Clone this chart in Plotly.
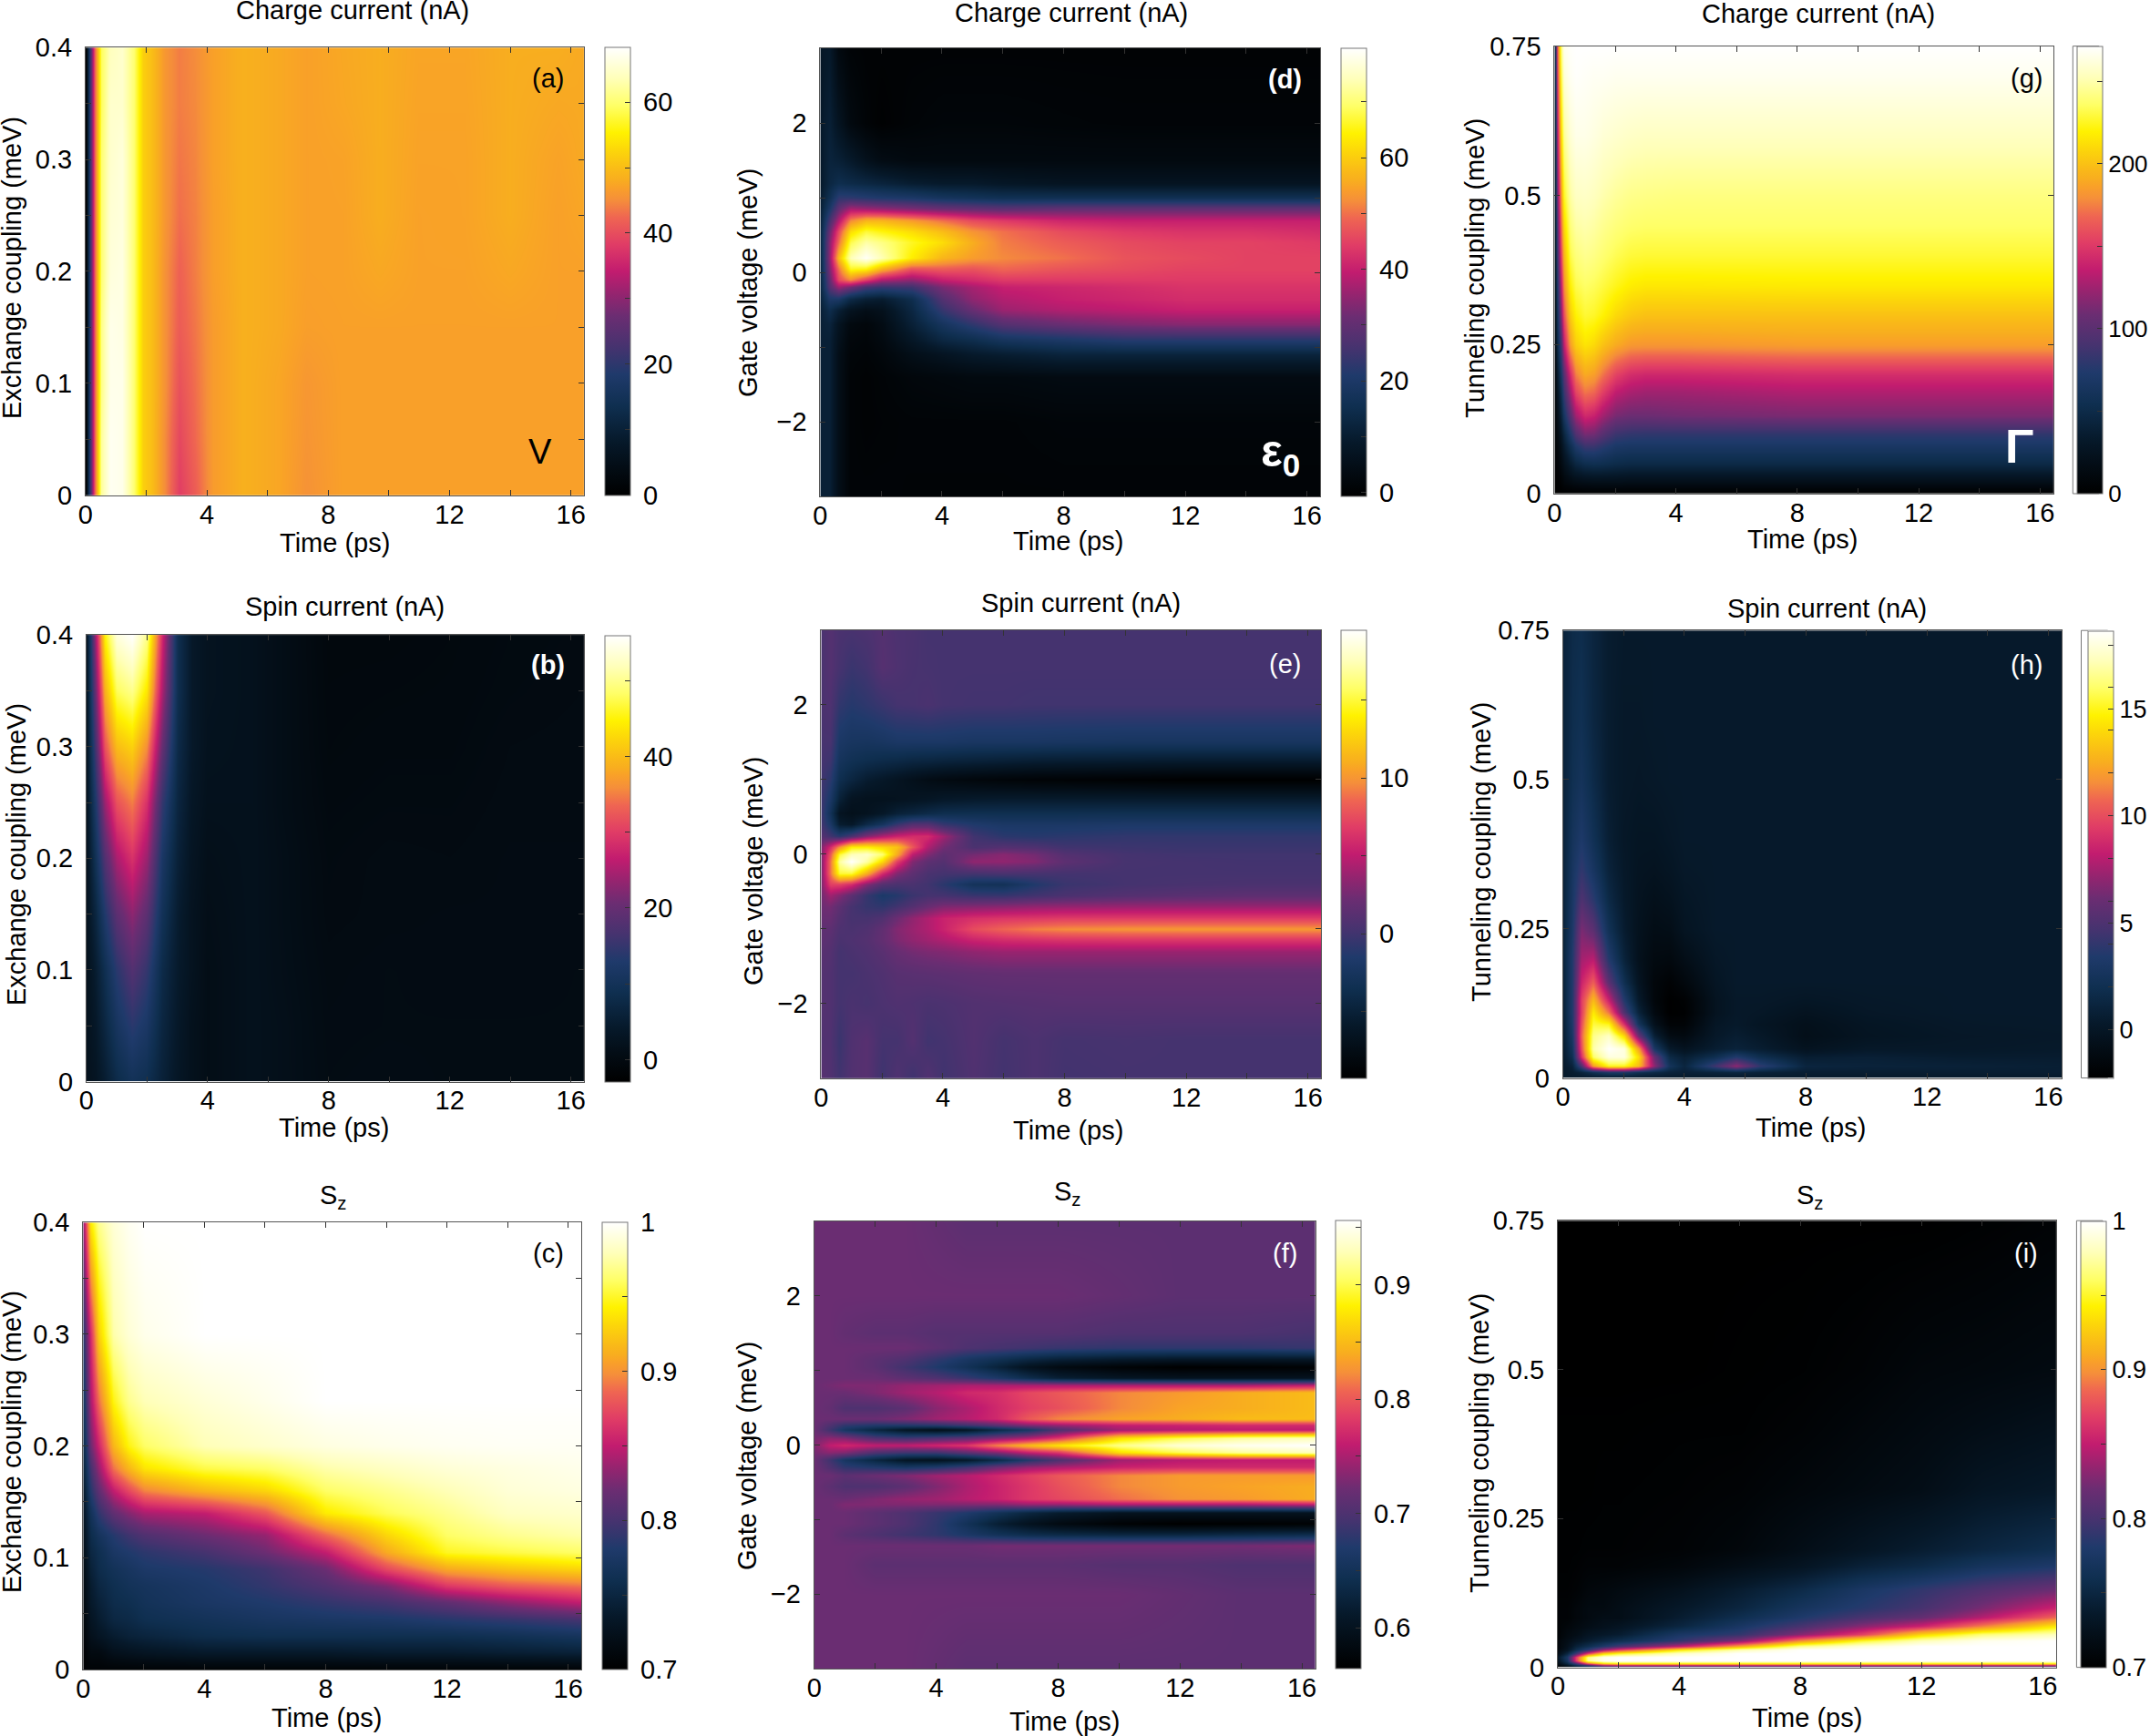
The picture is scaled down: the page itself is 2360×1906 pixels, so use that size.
import plotly.graph_objects as go

W = 2360
H = 1906
sans = "Liberation Sans"

colors = [[0, "#000000"], [0.06, "#030c14"], [0.12, "#06192a"], [0.2, "#0f2f50"], [0.27, "#1f3a6b"],
          [0.33, "#45336f"], [0.4, "#6b2d72"], [0.45, "#95246f"], [0.5, "#c21c6f"], [0.56, "#e03c66"],
          [0.62, "#ef6552"], [0.66, "#f58f3a"], [0.688, "#f9a128"], [0.705, "#f8ae1f"], [0.72, "#f9b61a"],
          [0.77, "#fcd60a"], [0.81, "#fff200"], [0.87, "#ffff66"], [0.93, "#ffffb8"], [1, "#ffffff"]]

# (a) charge current vs exchange coupling
a_t = [0, 0.15, 0.3, 0.5, 0.8, 1.2, 1.6, 1.9, 2.2, 2.6, 3.1, 3.6, 4.2, 5.2, 6.4, 7.3, 8.5, 9.7, 11, 12.5, 14, 15.6, 16.44]
a_j = [0, 0.05, 0.1, 0.15, 0.2, 0.25, 0.3, 0.35, 0.4]
a_z = [
    [0, 22, 42, 62, 67.5, 67, 60, 52, 50, 45, 38.5, 41.5, 46.5, 48.5, 47.5, 45.5, 47, 47, 47, 47, 47, 47, 47],
    [0, 22, 42, 62, 67.5, 67, 60, 52, 50, 45, 39.5, 42.5, 46.5, 48.5, 47.5, 45.8, 47, 47, 47, 47, 47, 47, 47],
    [0, 22, 42, 61, 67, 67, 60, 52, 50, 45.5, 40.5, 43, 46.5, 48.5, 47.5, 46, 47, 47, 47, 47, 47, 47, 47],
    [0, 22, 42, 61, 67, 66.5, 60, 52, 50, 45.5, 41.5, 43.5, 46.5, 48.5, 47.8, 46.8, 47, 47, 47, 47, 47, 47, 47],
    [0, 22, 42, 60, 66, 66.5, 60, 52, 50, 45.5, 42, 44, 46.8, 48.5, 47.8, 47, 47.1, 47.7, 47.1, 47.1, 47.7, 47, 47],
    [0, 22, 42, 60, 65.5, 66, 60, 52, 50, 46, 43, 44.2, 46.8, 48.5, 47.8, 47, 47.1, 48.2, 47.1, 47.2, 48.2, 47, 47.5],
    [0, 22, 42, 60, 65, 66, 60, 52, 50, 46, 43.5, 44.5, 47, 48.5, 47.8, 47, 47.2, 48.2, 47.2, 47.2, 48.2, 47.2, 47.8],
    [0, 22, 42, 59, 65, 65, 60, 52, 50, 46, 44, 44.8, 47, 48.5, 47.8, 47, 47.6, 48.2, 47.3, 47.3, 48.2, 47.7, 47.8],
    [0, 22, 42, 59, 64, 65, 60, 52, 50, 46, 44, 45, 47, 48.5, 47.8, 47, 47.7, 48.2, 47.4, 47.4, 48.2, 48.2, 47.8],
]

# (b) spin current vs exchange coupling
b_t = [0, 0.3, 0.6, 1, 1.5, 2, 2.5, 3, 3.5, 4, 5.5, 6.5, 8, 10, 12, 14, 16.44]
b_j = [0, 0.05, 0.1, 0.15, 0.2, 0.25, 0.3, 0.35, 0.4]
b_z = [
    [2, 3, 5, 8, 10, 9, 6, 3.5, 2, 1, 2, 1.5, 0.5, 0.7, 0.5, 0.5, 0.5],
    [2, 4, 7, 11, 14, 12, 7, 4, 2, 1, 2, 1.5, 0.4, 0.5, 0.5, 0.5, 0.5],
    [2, 5, 9, 14, 18, 15, 8, 4.5, 2.5, 1, 2, 1.3, 0.3, 0.5, 0.4, 0.4, 0.5],
    [2.5, 7, 13, 19, 23, 19, 10, 5, 2.5, 1.2, 2, 1.2, 0.1, 0.3, 0.4, 0.4, 0.4],
    [2.5, 10, 18, 25, 29, 24, 12, 6, 3, 1.5, 2, 1.2, 0, 0.3, 0.2, 0.4, 0.4],
    [3, 13, 24, 32, 35, 29, 15, 7, 3.5, 2, 2, 1, -0.2, 0, 0, 0.3, 0.3],
    [3, 17, 32, 40, 42, 36, 20, 8, 4, 2.3, 2, 1, -0.4, -0.2, -0.2, 0.2, 0.3],
    [3, 21, 39, 48, 50, 44, 25, 9, 4, 2.5, 2, 1, -0.5, -0.4, -0.3, 0, 0.2],
    [3, 25, 45, 54, 56, 50, 28, 9, 4, 2.5, 2, 1, -0.6, -0.6, -0.4, -0.1, 0.1],
]

# (c) Sz vs exchange coupling
c_t = [0, 0.25, 0.5, 1, 1.5, 2, 4, 6, 8, 10, 12, 14, 16.44]
c_j = [0, 0.015, 0.03, 0.045, 0.06, 0.075, 0.09, 0.105, 0.12, 0.14, 0.16, 0.18, 0.2, 0.24, 0.3, 0.4]
c_z = [
    [0.705, 0.705, 0.705, 0.705, 0.705, 0.705, 0.705, 0.705, 0.705, 0.705, 0.705, 0.705, 0.705],
    [0.703, 0.715, 0.715, 0.724, 0.727, 0.73, 0.736, 0.736, 0.736, 0.739, 0.739, 0.742, 0.745],
    [0.706, 0.724, 0.73, 0.739, 0.745, 0.748, 0.757, 0.76, 0.76, 0.76, 0.76, 0.763, 0.769],
    [0.709, 0.73, 0.739, 0.751, 0.754, 0.76, 0.766, 0.772, 0.775, 0.778, 0.784, 0.79, 0.799],
    [0.712, 0.736, 0.745, 0.757, 0.76, 0.766, 0.775, 0.781, 0.79, 0.799, 0.814, 0.832, 0.85],
    [0.715, 0.739, 0.751, 0.76, 0.766, 0.769, 0.778, 0.79, 0.805, 0.826, 0.865, 0.88, 0.889],
    [0.718, 0.745, 0.757, 0.766, 0.772, 0.778, 0.784, 0.796, 0.82, 0.874, 0.91, 0.922, 0.931],
    [0.721, 0.751, 0.76, 0.775, 0.781, 0.787, 0.799, 0.82, 0.85, 0.91, 0.949, 0.955, 0.961],
    [0.724, 0.757, 0.769, 0.784, 0.796, 0.805, 0.82, 0.835, 0.886, 0.931, 0.961, 0.97, 0.976],
    [0.73, 0.766, 0.79, 0.814, 0.829, 0.841, 0.85, 0.88, 0.94, 0.958, 0.97, 0.982, 0.985],
    [0.736, 0.784, 0.814, 0.85, 0.874, 0.895, 0.916, 0.931, 0.961, 0.97, 0.979, 0.988, 0.991],
    [0.745, 0.799, 0.835, 0.889, 0.916, 0.937, 0.955, 0.961, 0.976, 0.982, 0.988, 0.991, 0.994],
    [0.754, 0.82, 0.856, 0.916, 0.946, 0.961, 0.979, 0.985, 0.991, 0.994, 0.996, 0.997, 0.997],
    [0.766, 0.841, 0.889, 0.946, 0.97, 0.979, 0.988, 0.994, 1, 1, 1, 1, 1],
    [0.784, 0.859, 0.928, 0.976, 0.988, 0.994, 1, 1, 1, 1, 1, 1, 1],
    [0.835, 0.94, 0.97, 0.988, 0.996, 1, 1, 1, 1, 1, 1, 1, 1],
]

# (d) charge current vs gate voltage
d_t = [0, 0.3, 0.6, 1, 1.5, 2, 3, 4, 5, 6, 8, 10, 12, 14, 16.44]
d_e = [-3, -2, -1.4, -1.1, -0.9, -0.7, -0.5, -0.35, -0.2, -0.1, 0.05, 0.2, 0.4, 0.55, 0.7, 0.85, 1, 1.2, 1.5, 2, 3]
d_z = [
    [11, 11, 5, 1, 1, 1, 0.8, 0.8, 0.8, 0.8, 0.8, 0.8, 0.8, 0.8, 0.8],
    [11, 11, 5, 1, 0.5, 0.7, 1, 1, 1, 1, 1.5, 1.5, 1.5, 1.5, 1.5],
    [11, 11, 5, 1, 0.5, 1, 2, 2.5, 3, 3, 3.5, 3.5, 3.5, 3.5, 3.5],
    [11, 11, 5, 1.5, 1, 2, 5, 7, 9, 10, 12, 12, 12, 12, 12],
    [11, 11, 6, 2, 1.5, 3, 8, 13, 15, 18, 20, 22, 22, 22, 22],
    [11, 12, 7, 3, 2, 4, 11, 18, 23, 28, 31, 33, 34, 34, 34],
    [11, 15, 11, 7, 5, 6, 13, 24, 31, 36, 38, 39, 40, 40, 40],
    [12, 20, 20, 14, 11, 10, 15, 28, 35, 38, 40, 41, 42, 42, 42],
    [13, 28, 36, 32, 26, 24, 25, 33, 37, 40, 41, 42, 43, 43, 43],
    [13, 30, 46, 52, 45, 38, 35, 40, 42, 44, 44, 44, 44, 44, 44],
    [13, 33, 50, 66, 65, 57, 47, 48, 47, 49, 47, 46, 45, 45, 45],
    [13, 35, 58, 74, 79, 74, 64, 57, 54, 52, 50, 47, 46, 45, 45],
    [13, 34, 50, 68, 73, 71, 66, 62, 56, 51, 48, 46, 45, 45, 44],
    [13, 31, 46, 62, 67, 65, 62, 58, 53, 50, 46, 44, 43, 43, 42],
    [12, 26, 38, 52, 57, 57, 54, 50, 46, 44, 41, 40, 40, 40, 40],
    [11, 20, 30, 37, 36, 35, 33, 31, 30, 29, 30, 30, 30, 30, 30],
    [10, 16, 23, 23, 22, 21, 20, 18, 17, 16, 16, 16, 16, 16, 16],
    [9, 13, 15, 14, 13, 12, 10, 9, 9, 8, 7, 7, 7, 7, 7],
    [9, 12, 11, 9, 6, 4, 3, 3, 3, 3, 3, 3, 3, 3, 3],
    [9, 11, 7, 3, 1, 0, 1, 1.5, 1.5, 1.5, 1.2, 1, 1, 1, 1],
    [8, 9, 3, 1, 0.5, 0.5, 0.5, 0.5, 0.5, 0.5, 0.5, 0.5, 0.5, 0.5, 0.5],
]

# (e) spin current vs gate voltage
e_t = [0, 0.3, 0.6, 1, 1.5, 2, 2.5, 3, 3.5, 4, 5, 6, 7, 8, 10, 12, 14, 16.44]
e_e = [-3, -2.5, -2, -1.6, -1.3, -1.15, -1, -0.85, -0.7, -0.55, -0.4, -0.25, -0.1, 0, 0.1, 0.25, 0.4, 0.55, 0.75, 1, 1.25, 1.5, 2, 2.5, 3]
e_z = [
    [1.2, 0.8, 0.1, 0.9, 1.2, -0.1, 0.8, -0.1, 0.9, 0, 0.8, 0.1, 0.6, 0.1, 0.2, 0.2, 0.2, 0.2],
    [0.8, 0.8, -0.3, 0.8, 1.2, 0.2, 0.2, 1, 0, 0.2, 0.9, 0.2, 0.6, 0.2, 0.3, 0.2, 0.2, 0.2],
    [1, 0.8, 0.2, 0.5, 0.3, 0.6, 0.8, 0.7, 0.5, 0.6, 0.9, 1, 1.1, 1.2, 1.2, 1.2, 1.2, 1.2],
    [1, 0.8, 0.2, 0.2, 0.5, 0.8, 1.2, 1.3, 1.4, 1.5, 1.7, 1.8, 1.8, 1.8, 1.8, 1.8, 1.8, 1.8],
    [1.2, 1, 0.2, 0.5, 0.8, 1.3, 2, 2.5, 2.8, 3, 3.5, 3.8, 3.8, 3.8, 3.8, 3.8, 3.8, 3.8],
    [1.5, 1.2, 0.5, 0.7, 1, 1.8, 2.8, 3.5, 4, 4.5, 5.5, 6, 6.2, 6.4, 6.5, 6.5, 6.5, 6.5],
    [1.5, 1.5, 0.7, 0.5, 0.8, 1.7, 3, 3.8, 4.5, 5.5, 7.5, 8.5, 9.3, 9.7, 10, 10.1, 10.1, 10.1],
    [2, 2, 1, 0.3, 0.3, 0.8, 2.2, 3.5, 4.5, 5.5, 6.2, 6.5, 6.6, 6.8, 6.8, 6.8, 6.8, 6.8],
    [2.3, 2.5, 1.5, 0.3, -0.5, -0.8, 0, 1, 2, 2.8, 3, 3.2, 3.5, 3.6, 3.7, 3.7, 3.7, 3.7],
    [2.5, 4, 3, 1.5, -0.5, -1.8, -1.3, -0.3, 0.2, 0.2, -0.4, -0.5, 0, 0.5, 1, 1.3, 1.5, 1.5],
    [3, 7, 7, 6, 3, 1, 0.5, 0.5, 0, -1, -2.8, -3, -1.5, -0.3, 0.2, 0.4, 0.5, 0.5],
    [3, 9, 15, 15, 11, 6, 3, 1.5, 0.5, 0.2, 0.2, 0.5, 0.3, 0.2, 0.2, 0.2, 0.2, 0.2],
    [3, 9, 17, 19.5, 17, 13, 7, 3, 1.5, 1, 3.5, 3.5, 3, 1.5, 0.3, 0.2, 0.1, 0.1],
    [3, 8, 15, 17.5, 18, 16, 11, 5, 3, 1.5, 2.5, 3.2, 2.5, 1, 0.2, 0, 0, 0],
    [3, 6, 10, 14, 14, 13, 12, 8, 4.5, 2.5, 0.5, 1, 0.7, 0, -0.2, -0.3, -0.3, -0.3],
    [1, 0, -1, 0.5, 3, 4.5, 5.5, 6, 6, 4, 0, -1, -1.2, -1, -0.7, -0.7, -0.7, -0.7],
    [0, -2, -5.5, -6, -4, -2.5, -0.5, 1, 1, -0.5, -1.5, -2, -2, -2, -1.8, -1.8, -1.8, -1.8],
    [-0.2, -3, -6.5, -7, -6.7, -6, -5, -4.5, -4, -3.6, -3.5, -3.5, -3.5, -3.5, -3.4, -3.4, -3.4, -3.4],
    [-0.2, -2, -5, -6.5, -6.8, -6.8, -6.7, -6.5, -6.3, -6, -5.8, -5.7, -5.7, -5.7, -5.7, -5.7, -5.7, -5.7],
    [0, -1, -3.6, -4.5, -5.5, -6, -6.5, -7, -7.5, -7.8, -8.2, -8.5, -8.7, -8.8, -9, -9.2, -9.2, -9.2],
    [0.2, -0.2, -2.7, -3.3, -3.7, -4, -4.2, -4.5, -4.6, -4.8, -5, -5.2, -5.4, -5.5, -5.6, -5.7, -5.7, -5.7],
    [0.3, 0.3, -2, -2.4, -2.5, -2.3, -2, -2, -2, -2, -2.2, -2.2, -2.2, -2.3, -2.4, -2.4, -2.4, -2.4],
    [0.5, 0.7, -0.7, -1.2, -0.8, -0.3, 0.2, 0.3, 0.5, 0.2, 0.1, 0.1, 0, 0, 0, 0, 0, 0],
    [0.5, 1, 0.3, -0.3, 0.1, 1.1, 0.7, 0.4, 0.3, 0.2, 0.2, 0.2, 0.2, 0.2, 0.2, 0.2, 0.2, 0.2],
    [0.5, 1, 0.5, 0.4, 0.6, 1, 0.6, 0.5, 0.2, 0.2, 0.2, 0.2, 0.2, 0.2, 0.2, 0.2, 0.2, 0.2],
]

# (f) Sz vs gate voltage
f_t = [0, 0.5, 1, 2, 3, 4, 5, 6, 7, 8, 10, 12, 14, 16.44]
f_e = [-3, -2, -1.6, -1.35, -1.2, -1.05, -0.9, -0.8, -0.72, -0.55, -0.4, -0.3, -0.2, -0.1, 0, 0.1, 0.2, 0.27, 0.35, 0.5, 0.7, 0.8, 0.9, 1.05, 1.15, 1.3, 1.5, 2, 3]
f_z = [
    [0.72, 0.72, 0.72, 0.72, 0.72, 0.715, 0.71, 0.71, 0.71, 0.71, 0.71, 0.71, 0.71, 0.71],
    [0.72, 0.72, 0.72, 0.72, 0.72, 0.72, 0.72, 0.72, 0.72, 0.72, 0.72, 0.715, 0.71, 0.71],
    [0.72, 0.72, 0.72, 0.71, 0.71, 0.71, 0.71, 0.71, 0.71, 0.71, 0.705, 0.705, 0.7, 0.7],
    [0.72, 0.72, 0.72, 0.72, 0.72, 0.72, 0.72, 0.725, 0.725, 0.725, 0.725, 0.725, 0.725, 0.73],
    [0.72, 0.72, 0.71, 0.7, 0.69, 0.68, 0.665, 0.65, 0.64, 0.635, 0.63, 0.63, 0.635, 0.64],
    [0.72, 0.72, 0.72, 0.71, 0.7, 0.68, 0.65, 0.62, 0.6, 0.585, 0.57, 0.565, 0.567, 0.57],
    [0.72, 0.72, 0.72, 0.71, 0.7, 0.685, 0.67, 0.65, 0.63, 0.615, 0.6, 0.6, 0.6, 0.6],
    [0.72, 0.72, 0.73, 0.73, 0.73, 0.73, 0.73, 0.73, 0.74, 0.74, 0.75, 0.75, 0.75, 0.76],
    [0.72, 0.72, 0.72, 0.73, 0.74, 0.745, 0.755, 0.765, 0.78, 0.79, 0.81, 0.825, 0.83, 0.84],
    [0.72, 0.71, 0.7, 0.7, 0.71, 0.73, 0.75, 0.765, 0.78, 0.795, 0.82, 0.83, 0.835, 0.84],
    [0.72, 0.72, 0.71, 0.72, 0.73, 0.745, 0.755, 0.77, 0.785, 0.8, 0.82, 0.83, 0.83, 0.83],
    [0.72, 0.7, 0.68, 0.67, 0.66, 0.67, 0.69, 0.72, 0.74, 0.75, 0.765, 0.77, 0.77, 0.77],
    [0.72, 0.69, 0.66, 0.63, 0.605, 0.6, 0.61, 0.635, 0.67, 0.7, 0.745, 0.755, 0.76, 0.76],
    [0.725, 0.735, 0.73, 0.7, 0.69, 0.69, 0.71, 0.73, 0.76, 0.78, 0.87, 0.9, 0.92, 0.93],
    [0.73, 0.76, 0.77, 0.76, 0.76, 0.77, 0.78, 0.82, 0.85, 0.875, 0.915, 0.94, 0.95, 0.956],
    [0.725, 0.735, 0.73, 0.7, 0.69, 0.7, 0.71, 0.73, 0.75, 0.78, 0.87, 0.9, 0.92, 0.93],
    [0.72, 0.69, 0.66, 0.63, 0.605, 0.595, 0.605, 0.635, 0.66, 0.7, 0.745, 0.755, 0.76, 0.76],
    [0.72, 0.7, 0.68, 0.67, 0.67, 0.675, 0.69, 0.71, 0.73, 0.74, 0.76, 0.765, 0.77, 0.77],
    [0.72, 0.72, 0.72, 0.72, 0.73, 0.745, 0.755, 0.77, 0.8, 0.82, 0.835, 0.84, 0.85, 0.85],
    [0.72, 0.715, 0.7, 0.7, 0.71, 0.735, 0.75, 0.77, 0.785, 0.795, 0.82, 0.835, 0.84, 0.85],
    [0.72, 0.72, 0.72, 0.73, 0.745, 0.755, 0.77, 0.775, 0.79, 0.8, 0.82, 0.83, 0.84, 0.85],
    [0.72, 0.725, 0.73, 0.73, 0.74, 0.745, 0.75, 0.75, 0.75, 0.75, 0.75, 0.75, 0.75, 0.76],
    [0.72, 0.72, 0.72, 0.72, 0.71, 0.7, 0.685, 0.665, 0.64, 0.62, 0.605, 0.6, 0.6, 0.6],
    [0.72, 0.72, 0.72, 0.71, 0.69, 0.67, 0.65, 0.625, 0.6, 0.585, 0.572, 0.565, 0.567, 0.57],
    [0.72, 0.72, 0.72, 0.71, 0.7, 0.68, 0.66, 0.645, 0.63, 0.62, 0.61, 0.605, 0.605, 0.605],
    [0.72, 0.72, 0.72, 0.72, 0.72, 0.71, 0.7, 0.695, 0.69, 0.685, 0.68, 0.68, 0.68, 0.685],
    [0.72, 0.72, 0.715, 0.71, 0.71, 0.705, 0.705, 0.705, 0.705, 0.705, 0.7, 0.7, 0.7, 0.695],
    [0.72, 0.72, 0.72, 0.72, 0.72, 0.72, 0.72, 0.72, 0.72, 0.72, 0.715, 0.71, 0.71, 0.71],
    [0.72, 0.72, 0.72, 0.72, 0.72, 0.715, 0.71, 0.71, 0.71, 0.71, 0.71, 0.71, 0.71, 0.71],
]

# (g) charge current vs tunneling coupling
g_t = [0, 0.1, 0.2, 0.3, 0.5, 0.7, 1, 1.3, 1.6, 2, 2.5, 3, 4, 8, 16.44]
g_g = [0, 0.02, 0.05, 0.08, 0.1, 0.13, 0.17, 0.2, 0.25, 0.3, 0.35, 0.4, 0.45, 0.5, 0.6, 0.7, 0.75]
g_z = [
    [0, 0, 0, 0, 0, 0, 0, 0, 0, 0, 0, 0, 0, 0, 0],
    [0, 2, 5, 10, 15, 18, 20, 21, 21, 21, 20, 20, 20, 20, 20],
    [2, 6, 14, 22, 35, 45, 52, 54, 53, 50, 48, 48, 48, 48, 48],
    [4, 10, 22, 35, 55, 72, 85, 85, 78, 70, 68, 68, 68, 68, 68],
    [5, 14, 30, 45, 72, 95, 112, 110, 98, 85, 81, 80, 80, 80, 80],
    [6, 20, 42, 65, 98, 125, 142, 138, 125, 112, 108, 108, 110, 113, 113],
    [7, 28, 55, 85, 125, 155, 172, 168, 152, 135, 128, 125, 125, 130, 130],
    [8, 35, 68, 100, 145, 175, 190, 186, 172, 155, 145, 142, 142, 145, 145],
    [10, 50, 90, 135, 185, 205, 214, 210, 200, 190, 183, 182, 182, 185, 185],
    [12, 62, 115, 160, 205, 220, 228, 226, 220, 210, 203, 200, 200, 200, 200],
    [14, 75, 135, 180, 220, 232, 236, 234, 230, 224, 218, 216, 216, 217, 217],
    [16, 90, 155, 195, 232, 240, 244, 242, 238, 233, 229, 228, 228, 228, 228],
    [18, 100, 170, 210, 240, 248, 250, 248, 244, 240, 237, 236, 236, 236, 236],
    [20, 115, 185, 225, 248, 255, 256, 254, 250, 246, 243, 242, 241, 241, 241],
    [25, 135, 210, 245, 260, 265, 265, 263, 260, 258, 256, 255, 255, 255, 255],
    [30, 155, 230, 260, 268, 270, 269, 268, 268, 267, 267, 267, 267, 267, 267],
    [32, 165, 240, 266, 270, 271, 271, 271, 271, 271, 271, 271, 271, 271, 271],
]

# (h) spin current vs tunneling coupling
h_t = [0, 0.3, 0.6, 1, 1.5, 2, 2.5, 3, 3.5, 4, 5, 5.7, 6.5, 8, 10, 13, 16.44]
h_g = [0, 0.01, 0.02, 0.035, 0.05, 0.07, 0.09, 0.11, 0.13, 0.16, 0.2, 0.25, 0.3, 0.35, 0.4, 0.5, 0.6, 0.75]
h_z = [
    [0.3, 0.3, 0.3, 0.3, 0.3, 0.3, 0.3, 0.3, 0.3, 0.3, 0.3, 0.3, 0.3, 0.3, 0.3, 0.3, 0.3],
    [0.3, 0.5, 1, 2, 3, 3, 2, 1.5, 1, 0.8, 1, 1.2, 0.9, 0.6, 0.6, 0.6, 0.6],
    [0.3, 1, 5, 12, 15, 15, 13, 7, 2.5, 1.2, 4.5, 7, 4, 1.2, 1, 0.9, 0.7],
    [0.4, 2, 9, 16, 18, 18, 14, 6, 1.5, 0.7, 2, 3.5, 2, 0.6, 0.8, 0.5, 0.5],
    [0.5, 2.5, 10, 17, 18.6, 18, 12, 3, 0.3, -0.3, 0.6, 1, 0.6, -0.3, 0.2, 0.2, 0.3],
    [0.6, 3, 10.5, 16.5, 17.5, 14, 6, 0.8, -1, -1.2, 0.2, 0.6, 0.2, -0.7, -0.2, 0.1, 0.2],
    [0.7, 3.3, 10, 15.5, 15, 9, 2.5, -0.5, -1.8, -1.8, 0, 0.3, -0.1, -0.6, -0.1, 0.2, 0.3],
    [0.8, 3.5, 9.5, 14.5, 11, 5, 1, -1.2, -2.2, -2.1, -0.3, 0.2, 0.1, -0.3, 0.1, 0.3, 0.3],
    [0.8, 3.5, 9.5, 13, 8.5, 3.5, 0.3, -1.5, -2.2, -2, -0.3, 0.2, 0.2, 0, 0.2, 0.3, 0.3],
    [0.9, 3.5, 8.5, 10.5, 5.5, 2, -0.2, -1.5, -1.9, -1.4, -0.1, 0.3, 0.3, 0.3, 0.3, 0.3, 0.3],
    [1, 3.5, 7.5, 8, 3.5, 1, -0.5, -1.2, -1.3, -0.8, 0.1, 0.3, 0.3, 0.3, 0.3, 0.3, 0.3],
    [1, 3.2, 6.5, 5.5, 2.2, 0.5, -0.4, -0.9, -0.8, -0.2, 0.3, 0.3, 0.3, 0.3, 0.3, 0.3, 0.3],
    [1, 3, 5, 3.8, 1.5, 0.3, -0.3, -0.6, -0.4, 0, 0.3, 0.3, 0.3, 0.3, 0.3, 0.3, 0.3],
    [1, 2.8, 4, 2.8, 1, 0.2, -0.2, -0.3, -0.1, 0.2, 0.3, 0.3, 0.3, 0.3, 0.3, 0.3, 0.3],
    [1, 2.5, 3.3, 2.2, 0.7, 0.1, -0.1, -0.1, 0.1, 0.3, 0.3, 0.3, 0.3, 0.3, 0.3, 0.3, 0.3],
    [1, 2, 2.5, 1.6, 0.5, 0.2, 0.1, 0.2, 0.3, 0.3, 0.3, 0.3, 0.3, 0.3, 0.3, 0.3, 0.3],
    [1, 1.8, 2.1, 1.3, 0.5, 0.2, 0.2, 0.3, 0.3, 0.3, 0.3, 0.3, 0.3, 0.3, 0.3, 0.3, 0.3],
    [1, 1.6, 1.8, 1.2, 0.5, 0.3, 0.3, 0.3, 0.3, 0.3, 0.3, 0.3, 0.3, 0.3, 0.3, 0.3, 0.3],
]

# (i) Sz vs tunneling coupling
i_t = [0, 0.3, 0.6, 1, 1.5, 2, 4, 6, 8, 10, 12, 14, 16.44]
i_g = [0, 0.003, 0.007, 0.012, 0.018, 0.024, 0.03, 0.036, 0.045, 0.055, 0.07, 0.085, 0.1, 0.13, 0.17, 0.2, 0.3, 0.4, 0.5, 0.75]
i_z = [
    [0.706, 0.72, 0.74, 0.76, 0.77, 0.775, 0.775, 0.775, 0.775, 0.775, 0.775, 0.775, 0.775],
    [0.71, 0.73, 0.76, 0.79, 0.84, 0.85, 0.85, 0.85, 0.85, 0.85, 0.85, 0.85, 0.85],
    [0.72, 0.75, 0.8, 0.88, 0.93, 0.94, 0.94, 0.94, 0.94, 0.94, 0.94, 0.94, 0.94],
    [0.73, 0.77, 0.87, 0.97, 0.995, 1, 1, 1, 1, 1, 1, 1, 1],
    [0.735, 0.775, 0.87, 0.97, 0.995, 1, 1, 1, 1, 1, 1, 1, 1],
    [0.72, 0.75, 0.8, 0.87, 0.93, 0.95, 0.985, 1, 1, 1, 1, 1, 1],
    [0.715, 0.73, 0.76, 0.79, 0.84, 0.87, 0.94, 0.98, 1, 1, 1, 1, 1],
    [0.71, 0.725, 0.745, 0.76, 0.78, 0.8, 0.85, 0.91, 0.97, 0.99, 1, 1, 1],
    [0.71, 0.72, 0.73, 0.74, 0.75, 0.76, 0.79, 0.83, 0.9, 0.95, 0.98, 0.995, 1],
    [0.705, 0.715, 0.72, 0.73, 0.735, 0.74, 0.775, 0.79, 0.83, 0.87, 0.93, 0.965, 0.98],
    [0.705, 0.71, 0.715, 0.72, 0.725, 0.73, 0.75, 0.775, 0.8, 0.83, 0.855, 0.895, 0.94],
    [0.705, 0.705, 0.71, 0.715, 0.72, 0.72, 0.74, 0.76, 0.78, 0.8, 0.815, 0.845, 0.885],
    [0.705, 0.705, 0.71, 0.715, 0.715, 0.72, 0.735, 0.75, 0.77, 0.785, 0.8, 0.825, 0.855],
    [0.703, 0.703, 0.705, 0.71, 0.712, 0.715, 0.725, 0.74, 0.755, 0.775, 0.79, 0.805, 0.82],
    [0.702, 0.702, 0.703, 0.705, 0.705, 0.705, 0.71, 0.72, 0.73, 0.745, 0.755, 0.77, 0.78],
    [0.702, 0.702, 0.702, 0.703, 0.703, 0.703, 0.705, 0.71, 0.72, 0.73, 0.74, 0.75, 0.76],
    [0.701, 0.701, 0.701, 0.701, 0.702, 0.702, 0.703, 0.705, 0.71, 0.715, 0.72, 0.73, 0.735],
    [0.701, 0.701, 0.701, 0.701, 0.701, 0.701, 0.702, 0.702, 0.705, 0.71, 0.715, 0.72, 0.725],
    [0.7, 0.7, 0.7, 0.7, 0.7, 0.7, 0.7, 0.701, 0.702, 0.705, 0.71, 0.712, 0.715],
    [0.7, 0.7, 0.7, 0.7, 0.7, 0.7, 0.7, 0.7, 0.7, 0.7, 0.7, 0.702, 0.705],
]

x_ticks = [0, 4, 8, 12, 16]
x_minor = [2, 6, 10, 14]
j_ticks = [0, 0.1, 0.2, 0.3, 0.4]
j_minor = [0.05, 0.15, 0.25, 0.35]
e_ticks = [-2, 0, 2]
e_labels = ["\u22122", "0", "2"]
e_minor = [-1, 1]
g_ticks = [0, 0.25, 0.5, 0.75]
g_labels = ["0", "0.25", "0.5", "0.75"]

j_title = "Exchange coupling (meV)"
e_title = "Gate voltage (meV)"
g_title = "Tunneling coupling (meV)"
charge_title = "Charge current (nA)"
spin_title = "Spin current (nA)"
sz_title = "S<sub>z</sub>"

# one entry per panel: box is the plot area in pixels (x0, x1, y0, y1), cb the colorbar left edge
panels = [
    dict(tag="(a)", x=a_t, y=a_j, z=a_z, zr=(0, 68.4), box=(93.9, 641.3, 52.2, 543.7), cb=663.8,
         title=charge_title, tpos=(387, 11), ylab=j_title, ypos=(13, 294), xpos=(367, 596),
         yt=j_ticks, ytl=None, ym=j_minor, yr=(0, 0.4), tagpos=(602, 86), tagcol="black", tagb=False,
         cbv=[0, 10, 20, 30, 40, 50, 60], cbl=["0", "", "20", "", "40", "", "60"]),
    dict(tag="(b)", x=b_t, y=b_j, z=b_z, zr=(-2.9, 56), box=(94.9, 641.3, 697.1, 1187.5), cb=664.3,
         title=spin_title, tpos=(378, 666), ylab=j_title, ypos=(18, 938), xpos=(366, 1238),
         yt=j_ticks, ytl=None, ym=j_minor, yr=(0, 0.4), tagpos=(602, 730), tagcol="white", tagb=True,
         cbv=[0, 10, 20, 30, 40, 50], cbl=["0", "", "20", "", "40", ""]),
    dict(tag="(c)", x=c_t, y=c_j, z=c_z, zr=(0.7, 1), box=(91.3, 638.3, 1342.3, 1833), cb=661.2,
         title=sz_title, tpos=(365, 1314), ylab=j_title, ypos=(13, 1583), xpos=(358, 1886),
         yt=j_ticks, ytl=None, ym=j_minor, yr=(0, 0.4), tagpos=(602, 1376), tagcol="black", tagb=False,
         cbv=[0.7, 0.75, 0.8, 0.85, 0.9, 0.95, 1], cbl=["0.7", "", "0.8", "", "0.9", "", "1"]),
    dict(tag="(d)", x=d_t, y=d_e, z=d_z, zr=(-0.7, 79.6), box=(900.4, 1449.4, 53, 545), cb=1471.8,
         title=charge_title, tpos=(1176, 14), ylab=e_title, ypos=(821, 311), xpos=(1172, 594),
         yt=e_ticks, ytl=e_labels, ym=e_minor, yr=(-3, 3), tagpos=(1410, 87), tagcol="white", tagb=True,
         cbv=[0, 10, 20, 30, 40, 50, 60, 70], cbl=["0", "", "20", "", "40", "", "60", ""]),
    dict(tag="(e)", x=e_t, y=e_e, z=e_z, zr=(-9.3, 19.5), box=(901.4, 1450.4, 691.8, 1183.9), cb=1472.3,
         title=spin_title, tpos=(1186, 662), ylab=e_title, ypos=(827, 957), xpos=(1172, 1241),
         yt=e_ticks, ytl=e_labels, ym=e_minor, yr=(-3, 3), tagpos=(1410, 729), tagcol="white", tagb=False,
         cbv=[-5, 0, 5, 10, 15], cbl=["", "0", "", "10", ""]),
    dict(tag="(f)", x=f_t, y=f_e, z=f_z, zr=(0.564, 0.956), box=(893.8, 1443.8, 1340.6, 1832.2), cb=1465.7,
         title=sz_title, tpos=(1171, 1310), ylab=e_title, ypos=(820, 1599), xpos=(1168, 1890),
         yt=e_ticks, ytl=e_labels, ym=e_minor, yr=(-3, 3), tagpos=(1410, 1376), tagcol="white", tagb=False,
         cbv=[0.6, 0.65, 0.7, 0.75, 0.8, 0.85, 0.9, 0.95], cbl=["0.6", "", "0.7", "", "0.8", "", "0.9", ""]),
    dict(tag="(g)", x=g_t, y=g_g, z=g_z, zr=(0, 271), box=(1706.4, 2253.9, 50.6, 542), cb=2280, cbsize=26, frame=(2275.3, 2303.9),
         title=charge_title, tpos=(1996, 15), ylab=g_title, ypos=(1619, 295), xpos=(1978, 592),
         yt=g_ticks, ytl=g_labels, ym=[], yr=(0, 0.75), tagpos=(2224, 86), tagcol="black", tagb=False,
         cbv=[0, 50, 100, 150, 200, 250], cbl=["0", "", "100", "", "200", ""]),
    dict(tag="(h)", x=h_t, y=h_g, z=h_z, zr=(-2.24, 18.66), box=(1715.6, 2263.1, 692.2, 1183.5), cb=2292.1, cbsize=27, frame=(2284.5, 2313.6),
         title=spin_title, tpos=(2005, 668), ylab=g_title, ypos=(1626, 936), xpos=(1987, 1238),
         yt=g_ticks, ytl=g_labels, ym=[], yr=(0, 0.75), tagpos=(2224, 730), tagcol="white", tagb=False,
         cbv=[0, 2, 4, 5, 6, 8, 10, 12, 14, 15, 16, 18], cbl=["0", "", "", "5", "", "", "10", "", "", "15", "", ""]),
    dict(tag="(i)", x=i_t, y=i_g, z=i_z, zr=(0.7, 1), box=(1710, 2256.9, 1340.2, 1830.6), cb=2283.5, cbsize=27, frame=(2279.4, 2308),
         title=sz_title, tpos=(1986, 1314), ylab=g_title, ypos=(1624, 1585), xpos=(1983, 1886),
         yt=g_ticks, ytl=g_labels, ym=[], yr=(0, 0.75), tagpos=(2224, 1376), tagcol="white", tagb=False,
         cbv=[0.7, 0.75, 0.8, 0.85, 0.9, 0.95, 1], cbl=["0.7", "", "0.8", "", "0.9", "", "1"]),
]


def note(text, px, py, size=29, color="black", angle=0):
    return dict(text=text, x=px / W, y=1 - py / H, xref="paper", yref="paper", xanchor="center", yanchor="middle",
                showarrow=False, textangle=angle, font=dict(family=sans, size=size, color=color))


fig = go.Figure()
notes = []
frames = []
axes = {}
for n, p in enumerate(panels, start=1):
    x0, x1, y0, y1 = p["box"]
    suffix = "" if n == 1 else str(n)
    # left and middle columns have a wider gap between colorbar and labels
    cb_text = p["cbl"] if "frame" in p else ["\u2005" + s if s else s for s in p["cbl"]]
    fig.add_trace(go.Heatmap(
        x=p["x"], y=p["y"], z=p["z"], zmin=p["zr"][0], zmax=p["zr"][1], colorscale=colors, zsmooth="best",
        xaxis="x" + suffix, yaxis="y" + suffix,
        colorbar=dict(
            x=p["cb"] / W, xanchor="left", xpad=0, ypad=0, y=1 - y1 / H, yanchor="bottom", len=(y1 - y0) / H,
            lenmode="fraction", thickness=28, thicknessmode="pixels", outlinecolor="#777", outlinewidth=1,
            borderwidth=0, ticks="inside", ticklen=6, tickcolor="#333", tickwidth=1, tickvals=p["cbv"], ticktext=cb_text,
            tickfont=dict(family=sans, size=p.get("cbsize", 29), color="black"),
        ),
    ))
    axes["xaxis" + suffix] = dict(
        domain=[x0 / W, x1 / W], anchor="y" + suffix, range=[0, 16.44], tickvals=x_ticks,
        ticks="inside", ticklen=6, tickcolor="#333", tickwidth=1, ticklabelstandoff=-5, showgrid=False, zeroline=False,
        showline=True, linecolor="#555", linewidth=1, mirror="ticks",
        tickfont=dict(family=sans, size=29, color="black"),
        minor=dict(tickvals=x_minor, ticks="inside", ticklen=6, tickcolor="#333", showgrid=False),
    )
    yaxis = dict(
        domain=[1 - y1 / H, 1 - y0 / H], anchor="x" + suffix, range=list(p["yr"]), tickvals=p["yt"],
        ticks="inside", ticklen=6, tickcolor="#333", tickwidth=1, ticklabelstandoff=8, showgrid=False, zeroline=False,
        showline=True, linecolor="#555", linewidth=1, mirror="ticks",
        tickfont=dict(family=sans, size=29, color="black"),
        minor=dict(tickvals=p["ym"], ticks="inside", ticklen=6, tickcolor="#333", showgrid=False),
    )
    if p["ytl"]:
        yaxis["ticktext"] = p["ytl"]
    axes["yaxis" + suffix] = yaxis

    notes.append(note(p["title"], p["tpos"][0], p["tpos"][1]))
    notes.append(note("Time (ps)", p["xpos"][0], p["xpos"][1]))
    notes.append(note(p["ylab"], p["ypos"][0], p["ypos"][1], angle=-90))
    tag = "<b>" + p["tag"] + "</b>" if p["tagb"] else p["tag"]
    notes.append(note(tag, p["tagpos"][0], p["tagpos"][1], color=p["tagcol"]))
    if "frame" in p:
        frames.append(dict(type="rect", xref="paper", yref="paper", x0=p["frame"][0] / W, x1=p["frame"][1] / W,
                           y0=1 - y1 / H, y1=1 - y0 / H, line=dict(color="#777", width=1)))

notes.append(note("V", 593, 496, size=38))
notes.append(note("<b>\u03b5<sub>0</sub></b>", 1405, 498, size=50, color="white"))
notes.append(note("<b>\u0393</b>", 2216, 490, size=52, color="white"))

fig.update_layout(
    width=W, height=H, margin=dict(l=0, r=0, t=0, b=0, autoexpand=False), paper_bgcolor="white", plot_bgcolor="white",
    showlegend=False, annotations=notes, shapes=frames, **axes,
)
fig.write_html("out.html", config=dict(displayModeBar=False),
               post_script="document.body.style.margin='0';document.body.style.overflow='hidden';")
